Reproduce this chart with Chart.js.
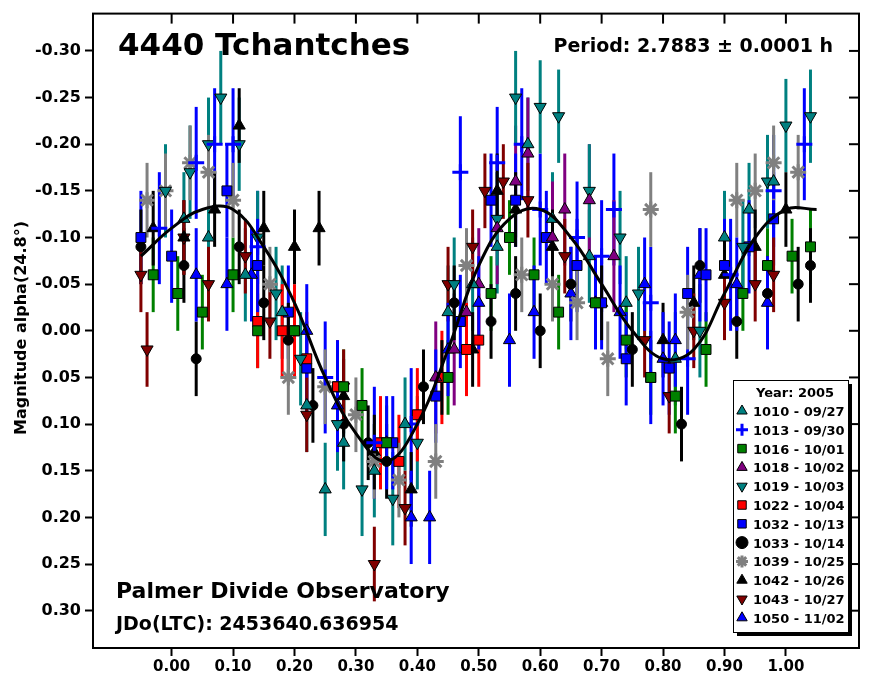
<!DOCTYPE html>
<html><head><meta charset="utf-8">
<script src="https://cdn.jsdelivr.net/npm/chart.js@4"></script>
<style>html,body{margin:0;padding:0;background:#fff}#w{width:870px;height:679px}</style>
</head><body><div id="w"><canvas id="c"></canvas></div>
<script>
const xTicks=[0.0,0.1,0.2,0.3,0.4,0.5,0.6,0.7,0.8,0.9,1.0];
const yTicks=[-0.30,-0.25,-0.20,-0.15,-0.10,-0.05,0.00,0.05,0.10,0.15,0.20,0.25,0.30];
const curvePh=[-0.05,0.0,0.05,0.1,0.15,0.2,0.25,0.3,0.35,0.4,0.45,0.5,0.55,0.6,0.65,0.7,0.75,0.8,0.85,0.9,0.95,1.0,1.05];
const curveMag=[-0.08,-0.11,-0.13,-0.13,-0.09,-0.03,0.05,0.11,0.14,0.10,0.02,-0.07,-0.12,-0.13,-0.10,-0.05,0.00,0.03,0.02,-0.04,-0.10,-0.13,-0.13];

const names=["1010 - 09/27","1013 - 09/30","1016 - 10/01","1018 - 10/02","1019 - 10/03","1022 - 10/04","1032 - 10/13","1033 - 10/14","1039 - 10/25","1042 - 10/26","1043 - 10/27","1050 - 11/02"];
const ph1010=[0.02,0.06,0.12,0.18,0.22,0.25,0.28,0.33,0.38,0.45,0.49,0.53,0.58,0.62,0.68,0.74,0.82,0.9,0.94,0.98];
const mag1010=[-0.12,-0.10,-0.06,-0.02,0.08,0.17,0.12,0.15,0.10,-0.02,-0.05,-0.09,-0.20,-0.12,-0.08,-0.03,0.03,-0.10,-0.13,-0.16];
const ph1013=[-0.02,0.04,0.07,0.10,0.14,0.25,0.33,0.39,0.47,0.53,0.57,0.60,0.66,0.70,0.72,0.78,0.84,0.91,0.98,1.03];
const mag1013=[-0.11,-0.18,-0.20,-0.20,-0.09,0.05,0.12,0.10,-0.17,-0.18,-0.20,-0.13,-0.10,-0.08,-0.13,-0.03,0.03,-0.06,-0.15,-0.20];
const ph1016=[-0.03,0.01,0.05,0.10,0.14,0.20,0.28,0.31,0.35,0.45,0.52,0.55,0.59,0.63,0.69,0.74,0.78,0.82,0.87,0.93,0.97,1.01,1.04];
const mag1016=[-0.06,-0.04,-0.02,-0.06,0.0,0.0,0.06,0.08,0.12,0.05,-0.04,-0.10,-0.06,-0.02,-0.03,0.01,0.05,0.07,0.02,-0.04,-0.07,-0.08,-0.09];
const ph1018=[0.43,0.46,0.48,0.50,0.53,0.56,0.58,0.62,0.64,0.68,0.72];
const mag1018=[0.05,0.02,-0.02,-0.05,-0.11,-0.16,-0.19,-0.10,-0.13,-0.14,-0.08];
const ph1019=[-0.01,0.03,0.06,0.08,0.11,0.14,0.17,0.21,0.27,0.31,0.36,0.40,0.46,0.53,0.56,0.60,0.63,0.68,0.73,0.76,0.86,0.93,0.97,1.00,1.04];
const mag1019=[-0.15,-0.17,-0.20,-0.25,-0.20,-0.10,-0.04,0.03,0.10,0.17,0.18,0.12,-0.05,-0.12,-0.25,-0.24,-0.23,-0.15,-0.10,-0.04,0.0,-0.09,-0.16,-0.22,-0.23];
const ph1022=[0.14,0.18,0.20,0.22,0.27,0.34,0.37,0.40,0.44,0.48,0.50];
const mag1022=[-0.01,0.0,0.0,0.03,0.06,0.12,0.14,0.09,0.05,0.02,0.01];
const ph1032=[-0.05,0.0,0.09,0.14,0.19,0.22,0.27,0.36,0.43,0.47,0.52,0.56,0.61,0.66,0.70,0.74,0.78,0.81,0.84,0.87,0.90,0.94,0.98];
const mag1032=[-0.10,-0.08,-0.15,-0.07,-0.02,0.04,0.06,0.12,0.07,-0.01,-0.14,-0.14,-0.10,-0.07,-0.03,0.03,0.05,0.04,-0.04,-0.06,-0.07,-0.09,-0.12];
const ph1033=[-0.05,0.02,0.04,0.11,0.15,0.19,0.23,0.28,0.32,0.35,0.41,0.46,0.52,0.56,0.60,0.65,0.75,0.83,0.86,0.92,0.97,1.02,1.04];
const mag1033=[-0.09,-0.07,0.03,-0.09,-0.03,0.01,0.08,0.10,0.12,0.14,0.06,-0.03,-0.01,-0.04,0.00,-0.05,0.02,0.10,-0.07,-0.01,-0.04,-0.05,-0.07];
const ph1039=[-0.04,-0.01,0.03,0.06,0.10,0.16,0.19,0.25,0.30,0.33,0.37,0.43,0.48,0.57,0.62,0.66,0.71,0.78,0.84,0.92,0.95,0.98,1.02];
const mag1039=[-0.14,-0.15,-0.18,-0.17,-0.14,-0.05,0.05,0.06,0.09,0.14,0.16,0.14,-0.07,-0.06,-0.05,-0.03,0.03,-0.13,-0.02,-0.14,-0.15,-0.18,-0.17];
const ph1042=[-0.03,0.02,0.07,0.11,0.15,0.20,0.24,0.28,0.33,0.39,0.44,0.49,0.53,0.56,0.62,0.70,0.80,0.85,0.90,0.95,1.00];
const mag1042=[-0.11,-0.10,-0.13,-0.22,-0.11,-0.09,-0.11,0.07,0.13,0.17,0.05,0.02,-0.15,-0.13,-0.09,-0.03,0.01,-0.03,-0.06,-0.09,-0.13];
const ph1043=[-0.05,-0.04,0.02,0.06,0.12,0.16,0.22,0.28,0.33,0.38,0.45,0.49,0.51,0.54,0.58,0.64,0.77,0.81,0.85,0.90,0.95,0.98];
const mag1043=[-0.06,0.02,-0.10,-0.05,-0.08,-0.01,0.09,0.06,0.25,0.19,-0.05,-0.09,-0.15,-0.16,-0.14,-0.08,0.01,0.07,0.0,-0.03,-0.05,-0.06];
const ph1050=[0.04,0.09,0.13,0.22,0.27,0.35,0.39,0.42,0.45,0.50,0.55,0.59,0.65,0.69,0.73,0.77,0.80,0.82,0.86,0.92,0.97];
const mag1050=[-0.06,-0.05,-0.06,0.0,0.08,0.12,0.20,0.20,0.02,-0.03,0.01,-0.02,-0.04,-0.03,-0.02,-0.05,0.03,0.01,-0.06,-0.05,-0.03];
const errs=[0.05,0.06,0.04,0.06,0.05,0.05,0.05,0.04,0.04,0.04,0.04,0.05];

const phs=[ph1010,ph1013,ph1016,ph1018,ph1019,ph1022,ph1032,ph1033,ph1039,ph1042,ph1043,ph1050];
const mags=[mag1010,mag1013,mag1016,mag1018,mag1019,mag1022,mag1032,mag1033,mag1039,mag1042,mag1043,mag1050];
const styles=[
 {c:'#008080',s:'triangle',r:0,b:'#000'},
 {c:'#0000ff',s:'cross',r:0,b:'#0000ff'},
 {c:'#008000',s:'rect',r:0,b:'#000'},
 {c:'#800080',s:'triangle',r:0,b:'#000'},
 {c:'#008080',s:'triangle',r:180,b:'#000'},
 {c:'#ff0000',s:'rect',r:0,b:'#000'},
 {c:'#0000ff',s:'rect',r:0,b:'#000'},
 {c:'#000000',s:'circle',r:0,b:'#000'},
 {c:'#808080',s:'star',r:0,b:'#808080'},
 {c:'#000000',s:'triangle',r:0,b:'#000'},
 {c:'#800000',s:'triangle',r:180,b:'#000'},
 {c:'#0000ff',s:'triangle',r:0,b:'#000'}];
function rad(s){return s==='circle'?5:((s==='cross'||s==='star')?8:7);}
function bw(s){return (s==='cross'||s==='star')?3:1;}

const datasets=[];
phs.forEach((p,i)=>{
  const st=styles[i];
  datasets.push({label:names[i],type:'scatter',data:p.map((x,j)=>({x:x,y:mags[i][j]})),
    err:errs[i],pointStyle:st.s,rotation:st.r,backgroundColor:st.c,borderColor:st.b,
    pointBorderWidth:bw(st.s),pointRadius:rad(st.s),order:2});
});
datasets.push({type:'line',label:'fit',data:curvePh.map((x,j)=>({x:x,y:curveMag[j]})),borderColor:'#000',borderWidth:3,pointRadius:0,tension:0.4,fill:false,order:1});

const F='"DejaVu Sans", Verdana, sans-serif';
const plug={id:'extras',
 beforeDatasetsDraw(ch){
  const ctx=ch.ctx,xs=ch.scales.x,ys=ch.scales.y;
  ctx.save();ctx.lineWidth=3;
  ch.data.datasets.forEach(ds=>{ if(ds.err===undefined)return;
    ctx.strokeStyle=ds.backgroundColor;
    ds.data.forEach(pt=>{const px=xs.getPixelForValue(pt.x);
      ctx.beginPath();ctx.moveTo(px,ys.getPixelForValue(pt.y-ds.err));ctx.lineTo(px,ys.getPixelForValue(pt.y+ds.err));ctx.stroke();});
  });ctx.restore();
 },
 afterDraw(ch){
  const ctx=ch.ctx,a=ch.chartArea;
  ctx.save();
  ctx.strokeStyle='#000';ctx.lineWidth=2;ctx.strokeRect(a.left,a.top,a.right-a.left,a.bottom-a.top);
  const xs=ch.scales.x,ys=ch.scales.y;
  yTicks.forEach(v=>{const y=ys.getPixelForValue(v);ctx.beginPath();ctx.moveTo(a.right,y);ctx.lineTo(a.right-10,y);ctx.stroke();});
  xTicks.forEach(v=>{const x=xs.getPixelForValue(v);ctx.beginPath();ctx.moveTo(x,a.top);ctx.lineTo(x,a.top+10);ctx.stroke();});
  ctx.fillStyle='#000';ctx.textBaseline='alphabetic';
  ctx.font='bold 31px '+F;ctx.textAlign='left';ctx.fillText('4440 Tchantches',118,55);
  ctx.font='bold 19px '+F;ctx.textAlign='right';ctx.fillText('Period: 2.7883 \u00b1 0.0001 h',833,52);
  ctx.textAlign='left';ctx.font='bold 22px '+F;ctx.fillText('Palmer Divide Observatory',116,598);
  ctx.font='bold 19px '+F;ctx.fillText('JDo(LTC): 2453640.636954',116,630);
  ctx.save();ctx.translate(26,328);ctx.rotate(-Math.PI/2);ctx.textAlign='center';ctx.font='bold 16px '+F;ctx.fillText('Magnitude alpha(24.8\u00b0)',0,0);ctx.restore();
  const lx=733,ly=380,lw=115,lh=252;
  ctx.fillStyle='#000';ctx.fillRect(lx+4,ly+4,lw,lh);
  ctx.fillStyle='#fff';ctx.fillRect(lx,ly,lw,lh);
  ctx.lineWidth=1;ctx.strokeStyle='#000';ctx.strokeRect(lx+0.5,ly+0.5,lw,lh);
  ctx.fillStyle='#000';ctx.font='bold 13px '+F;ctx.textAlign='center';ctx.fillText('Year: 2005',lx+62,ly+17);
  ctx.textAlign='left';
  names.forEach((n,i)=>{const y=ly+36+i*18.8;const st=styles[i];
    ctx.fillStyle=st.c;ctx.strokeStyle=st.b;ctx.lineWidth=bw(st.s);
    Chart.helpers.drawPoint(ctx,{pointStyle:st.s,rotation:st.r,radius:6,borderWidth:ctx.lineWidth},lx+9,y-5);
    ctx.fillStyle='#000';ctx.fillText(n,lx+20,y);});
  ctx.restore();
 }};

new Chart(document.getElementById('c'),{
 data:{datasets:datasets},
 options:{responsive:true,maintainAspectRatio:false,animation:false,
  layout:{padding:{top:8,right:10,left:0,bottom:0}},
  plugins:{legend:{display:false},tooltip:{enabled:false}},
  scales:{
   x:{type:'linear',min:-0.128,max:1.119,
     afterBuildTicks(s){s.ticks=xTicks.map(v=>({value:v}));},
     afterFit(s){s.height=31;},
     grid:{drawOnChartArea:false,tickLength:8,tickWidth:2,color:'#000'},
     border:{color:'#000',width:2},
     ticks:{color:'#000',font:{family:F,weight:'bold',size:15},padding:2,maxRotation:0,callback:v=>v.toFixed(2)}},
   y:{type:'linear',reverse:true,min:-0.34,max:0.34,
     afterBuildTicks(s){s.ticks=yTicks.map(v=>({value:v}));},
     afterFit(s){s.width=93;},
     grid:{drawOnChartArea:false,tickLength:8,tickWidth:2,color:'#000'},
     border:{color:'#000',width:2},
     ticks:{color:'#000',font:{family:F,weight:'bold',size:16},padding:4,callback:v=>v.toFixed(2)}}
  }},
 plugins:[plug]});
</script></body></html>
